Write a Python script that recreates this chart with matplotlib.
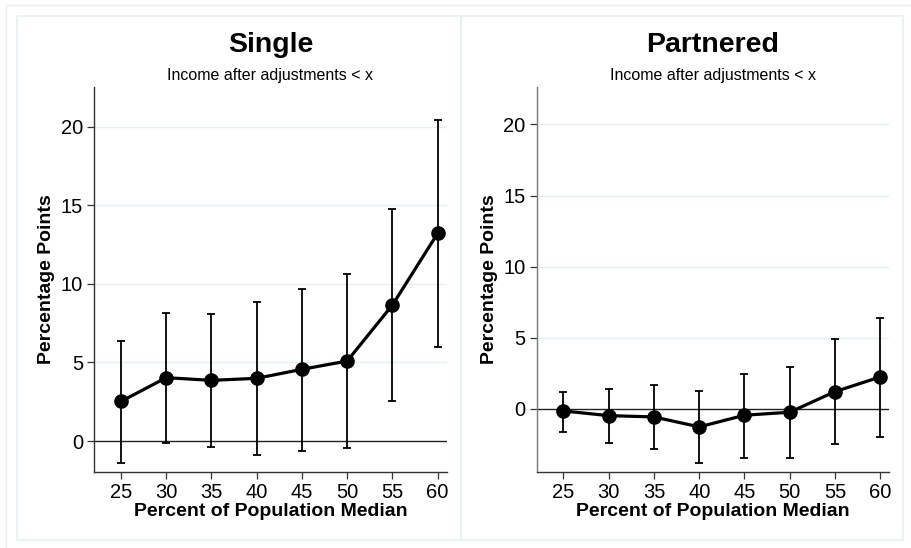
import matplotlib
matplotlib.use("Agg")
import matplotlib.pyplot as plt
from matplotlib.lines import Line2D

plt.rcParams['font.family'] = ['Liberation Sans', 'DejaVu Sans']

# Thresholds (percent of population median)
thresholds = [25, 30, 35, 40, 45, 50, 55, 60]

# Single: point estimates and confidence bounds (percentage points)
single_est = [2.52, 4.03, 3.86, 3.99, 4.56, 5.09, 8.65, 13.21]
single_hi = [6.34, 8.14, 8.06, 8.82, 9.69, 10.60, 14.74, 20.40]
single_lo = [-1.38, -0.15, -0.38, -0.89, -0.64, -0.47, 2.52, 5.96]

# Partnered: point estimates and confidence bounds (percentage points)
partnered_est = [-0.14, -0.47, -0.56, -1.26, -0.44, -0.23, 1.22, 2.25]
partnered_hi = [1.22, 1.38, 1.66, 1.29, 2.48, 2.97, 4.89, 6.37]
partnered_lo = [-1.59, -2.39, -2.81, -3.82, -3.42, -3.47, -2.48, -1.94]

panel_titles = ["Single", "Partnered"]
subtitle = "Income after adjustments < x"
xlabel = "Percent of Population Median"
ylabel = "Percentage Points"
yticks = [0, 5, 10, 15, 20]

W, H = 912, 548
fig = plt.figure(figsize=(W / 100, H / 100), dpi=100)
fig.patch.set_facecolor("white")


def px_rect(x0, y0, x1, y1):
    """Convert pixel box (top-left origin) to figure fraction [l, b, w, h]."""
    return [x0 / W, 1 - y1 / H, (x1 - x0) / W, (y1 - y0) / H]


def px_line(xs, ys, color, lw=1.0):
    fig.add_artist(Line2D([x / W for x in xs], [1 - y / H for y in ys],
                          transform=fig.transFigure, color=color, lw=lw,
                          solid_capstyle="butt"))


# outer frame and panel frames
outer = "#eeeeee"
px_line([6, 6], [5, 560], outer)
px_line([6, 920], [5, 5], outer)
panel = "#e9f0f0"
for (x0, x1) in [(17.3, 460.7), (460.7, 903.3)]:
    px_line([x0, x1, x1, x0, x0], [16, 16, 540, 540, 16], panel, lw=1.2)

axes_boxes = [(94.3, 87.3, 446.7, 471.7), (536.7, 87.3, 889.3, 471.7)]
ylims = [(-1.95, 22.5), (-4.41, 22.61)]
series = [(single_est, single_lo, single_hi),
          (partnered_est, partnered_lo, partnered_hi)]
spine_colors = ["#333333", "#777777"]

for i, ax_box in enumerate(axes_boxes):
    ax = fig.add_axes(px_rect(*ax_box))
    est, lo, hi = series[i]
    ax.set_xlim(22.05, 61.0)
    ax.set_ylim(*ylims[i])

    for v in yticks[1:]:
        ax.axhline(v, color="#e6eff0", lw=1.0, zorder=0)
    ax.axhline(0, color="#222222", lw=1.0, zorder=1)

    yerr = [[e - l for e, l in zip(est, lo)], [h - e for e, h in zip(est, hi)]]
    ax.errorbar(thresholds, est, yerr=yerr, fmt="none", ecolor="black",
                elinewidth=1.3, capsize=3.0, capthick=1.3, zorder=2)
    ax.plot(thresholds, est, color="black", lw=2.3, marker="o",
            markersize=9.5, zorder=3)

    for s in ["top", "right"]:
        ax.spines[s].set_visible(False)
    ax.spines["left"].set_color(spine_colors[i])
    ax.spines["bottom"].set_color("#333333")
    ax.spines["left"].set_linewidth(1.0)
    ax.spines["bottom"].set_linewidth(1.0)

    ax.set_xticks(thresholds)
    ax.set_yticks(yticks)
    ax.tick_params(axis="both", direction="out", length=5, width=0.9,
                   labelsize=14.5, colors="#333333", labelcolor="black", pad=3)

    ax.set_xlabel(xlabel, fontsize=14, fontweight="bold", labelpad=1)
    ax.set_ylabel(ylabel, fontsize=14, fontweight="bold")
    # label sits about 39 px left of the y axis in both panels
    ax.yaxis.set_label_coords(-39.0 / (ax_box[2] - ax_box[0]), 0.5)

    cx = (ax_box[0] + ax_box[2]) / 2 / W
    fig.text(cx, 1 - 45.5 / H, panel_titles[i], ha="center", va="center",
             fontsize=20.5, fontweight="bold")
    fig.text(cx, 1 - 75.8 / H, subtitle, ha="center", va="center",
             fontsize=11.5)

fig.savefig("out.png", dpi=100, facecolor="white")
